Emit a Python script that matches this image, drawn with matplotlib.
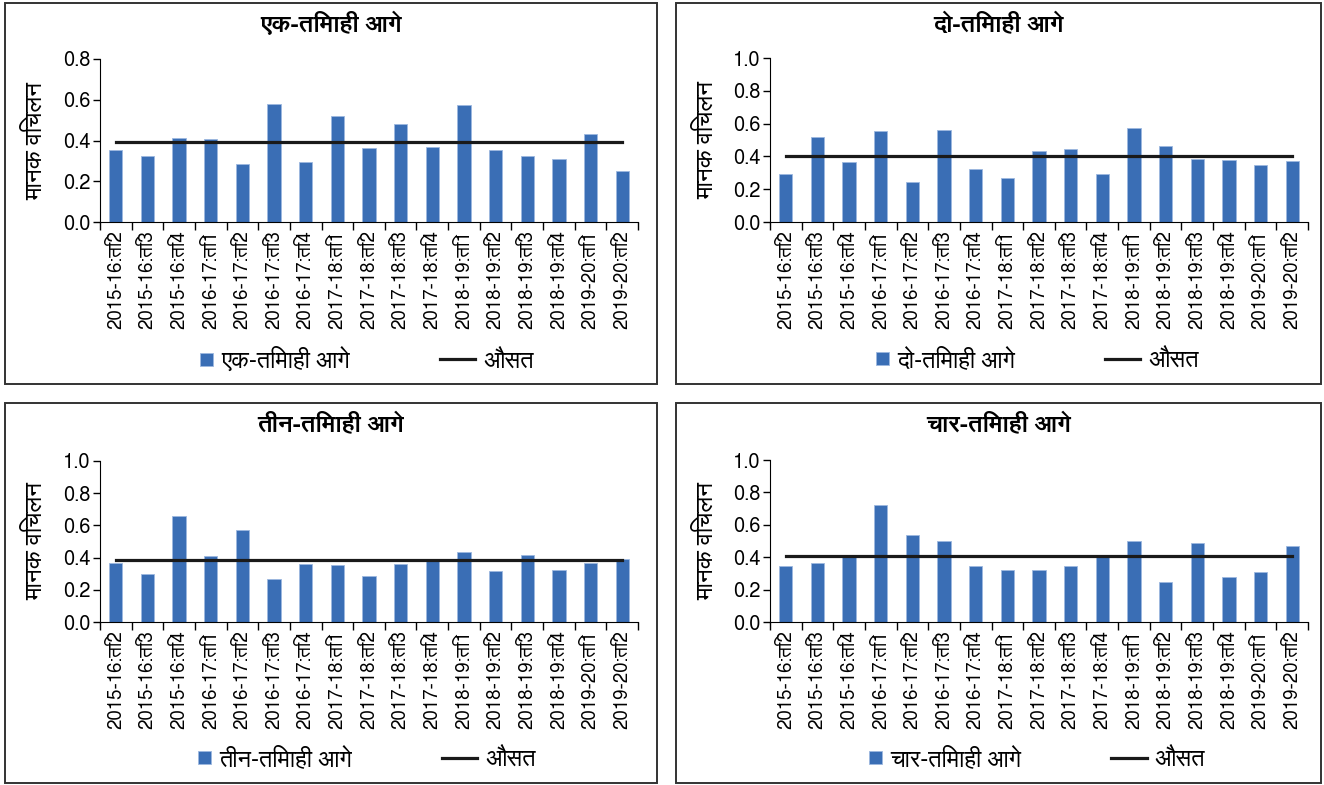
import numpy as np
import matplotlib
matplotlib.use("Agg")
import matplotlib.pyplot as plt
from matplotlib import font_manager as fm
from matplotlib.ft2font import FT2Font
from matplotlib.patches import Rectangle
from matplotlib.legend_handler import HandlerPatch


# Schrift mit Devanagari suchen (Sans bevorzugt)
def find_deva_font():
    best, best_score = None, -1
    for path in sorted(fm.findSystemFonts()):
        try:
            f = FT2Font(path)
            if 0x0915 not in f.get_charmap():
                continue
        except Exception:
            continue
        name = f.family_name
        score = 0
        if "Sans" in name:
            score += 4
        if "Mono" in name or "Serif" in name:
            score -= 4
        if f.style_name in ("Regular", "Book", "Medium"):
            score += 1
        if score > best_score:
            best, best_score = path, score
    if best is None:
        return None
    fm.fontManager.addfont(best)
    return fm.FontProperties(fname=best).get_name()

deva = find_deva_font()
fams = ["Liberation Sans Narrow"] + ([deva] if deva else []) + ["DejaVu Sans"]
plt.rcParams["font.family"] = fams

# Daten
quarters = ["2015-16:ति2", "2015-16:ति3", "2015-16:ति4",
            "2016-17:ति1", "2016-17:ति2", "2016-17:ति3", "2016-17:ति4",
            "2017-18:ति1", "2017-18:ति2", "2017-18:ति3", "2017-18:ति4",
            "2018-19:ति1", "2018-19:ति2", "2018-19:ति3", "2018-19:ति4",
            "2019-20:ति1", "2019-20:ति2"]

titles = ["एक-तिमाही आगे", "दो-तिमाही आगे", "तीन-तिमाही आगे", "चार-तिमाही आगे"]
mean_label = "औसत"
ylabel = "मानक विचलन"

sd_one = [0.354, 0.325, 0.411, 0.407, 0.287, 0.580, 0.295, 0.521, 0.364,
          0.482, 0.367, 0.574, 0.351, 0.325, 0.311, 0.434, 0.252]
sd_two = [0.290, 0.519, 0.368, 0.554, 0.245, 0.564, 0.323, 0.270, 0.431,
          0.446, 0.290, 0.575, 0.466, 0.382, 0.378, 0.348, 0.372]
sd_three = [0.364, 0.300, 0.661, 0.409, 0.572, 0.264, 0.360, 0.355, 0.285,
            0.360, 0.380, 0.434, 0.314, 0.417, 0.324, 0.368, 0.393]
sd_four = [0.348, 0.367, 0.400, 0.720, 0.536, 0.497, 0.348, 0.324, 0.324,
           0.344, 0.402, 0.497, 0.249, 0.487, 0.278, 0.307, 0.468]
means = [0.393, 0.401, 0.388, 0.406]
ymax = [0.8, 1.0, 1.0, 1.0]

W, H = 1324, 785
bar_col = "#3A6EB5"


# kleines Quadrat rechts im Legenden-Feld
def square_patch(legend, orig_handle, xdescent, ydescent, width, height, fontsize):
    s = 0.55 * fontsize
    return Rectangle((-xdescent + width - s, -ydescent + (height - s) / 2), s, s)


fig = plt.figure(figsize=(W / 100, H / 100), dpi=100)

# Panel: Achsen (x0, x1, y_top, y_bottom) und Rahmen (x0, x1, y0, y1) in Pixel
axes_px = [(100, 638, 59, 222), (770, 1308, 58, 222),
           (100, 638, 461, 622), (770, 1308, 460, 622)]
box_px = [(5, 657, 3, 384), (676, 1321, 3, 384),
          (5, 657, 403, 783), (676, 1321, 403, 783)]
series = [sd_one, sd_two, sd_three, sd_four]

x = np.arange(len(quarters))

for i in range(4):
    ax0, ax1, yt, yb = axes_px[i]
    ax = fig.add_axes([ax0 / W, 1 - yb / H, (ax1 - ax0) / W, (yb - yt) / H])
    bars = ax.bar(x, series[i], width=0.42, color=bar_col, edgecolor="#9CB8E0",
                  linewidth=0.6)
    line, = ax.plot(x, [means[i]] * len(x), color="#1a1a1a", lw=2.3)

    ax.set_xlim(-0.5, len(x) - 0.5)
    ax.set_ylim(0, ymax[i])
    yt_vals = np.arange(0, ymax[i] + 0.01, 0.2)
    ax.set_yticks(yt_vals)
    ax.set_yticklabels(["%.1f" % v for v in yt_vals], fontsize=14.5)
    ax.set_xticks(x)
    ax.set_xticklabels(quarters, rotation=90, fontsize=13.5)
    ax.set_xticks(np.arange(-0.5, len(x)), minor=True)
    ax.tick_params(axis="x", which="major", length=0, pad=6)
    ax.tick_params(axis="x", which="minor", length=6, width=1)
    ax.tick_params(axis="y", length=5, width=1, pad=2)
    ax.spines["top"].set_visible(False)
    ax.spines["right"].set_visible(False)

    # Rahmen + Texte
    bx0, bx1, by0, by1 = box_px[i]
    fig.patches.append(Rectangle((bx0 / W, 1 - by1 / H), (bx1 - bx0) / W,
                                 (by1 - by0) / H, transform=fig.transFigure,
                                 fill=False, ec="#333333", lw=1.4))
    fig.text((bx0 + bx1) / 2 / W, 1 - (by0 + 22) / H, titles[i],
             ha="center", va="center", fontsize=17.5, fontweight="bold")
    fig.text((bx0 + 30) / W, 1 - (yt + yb) / 2 / H, ylabel, rotation=90,
             ha="center", va="center", fontsize=17.5)

    ax.legend([bars[0], line], [titles[i], mean_label], ncol=2, frameon=False,
              loc="center",
              bbox_to_anchor=((ax0 + ax1 - 26) / 2 / W, 1 - (by1 - 24) / H),
              bbox_transform=fig.transFigure, fontsize=17, columnspacing=3.8,
              handlelength=1.5, handletextpad=0.35,
              handler_map={Rectangle: HandlerPatch(patch_func=square_patch)})

fig.savefig("out.png", dpi=100)
